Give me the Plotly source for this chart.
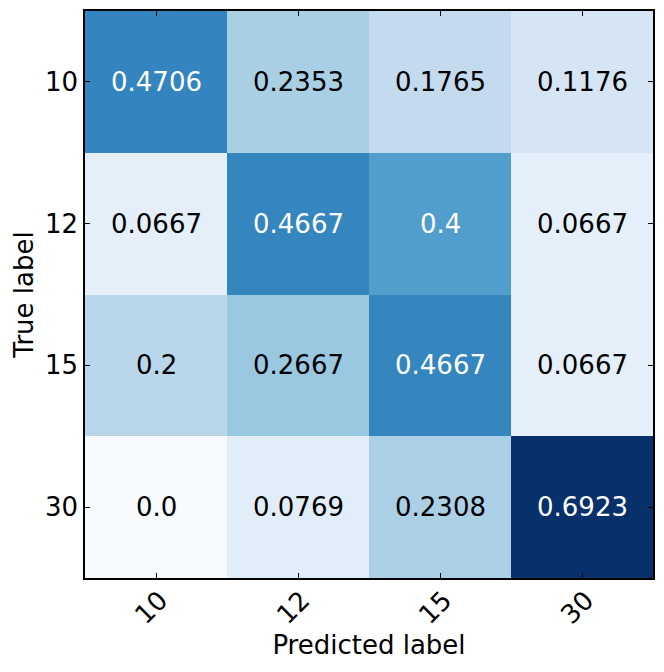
import plotly.graph_objects as go

classes = ["10", "12", "15", "30"]
values = [
    [0.4706, 0.2353, 0.1765, 0.1176],
    [0.0667, 0.4667, 0.4, 0.0667],
    [0.2, 0.2667, 0.4667, 0.0667],
    [0.0, 0.0769, 0.2308, 0.6923],
]
labels = [
    ["0.4706", "0.2353", "0.1765", "0.1176"],
    ["0.0667", "0.4667", "0.4", "0.0667"],
    ["0.2", "0.2667", "0.4667", "0.0667"],
    ["0.0", "0.0769", "0.2308", "0.6923"],
]

blues = ["#f7fbff", "#deebf7", "#c6dbef", "#9ecae1", "#6baed6",
         "#4292c6", "#2171b5", "#08519c", "#08306b"]
cscale = [[i / (len(blues) - 1), c] for i, c in enumerate(blues)]

vmin = min(min(r) for r in values)
vmax = max(max(r) for r in values)
thresh = vmax / 2.0
idx = list(range(len(classes)))

fig = go.Figure(go.Heatmap(
    z=values, x=idx, y=idx, colorscale=cscale,
    zmin=vmin, zmax=vmax, showscale=False, hoverinfo="skip",
))

font = "DejaVu Sans"
for i, row in enumerate(values):
    for j, v in enumerate(row):
        fig.add_annotation(
            x=idx[j], y=idx[i], text=labels[i][j], showarrow=False,
            font=dict(family=font, size=26, color="white" if v > thresh else "black"),
        )

axis_common = dict(
    showgrid=False, zeroline=False, automargin=False,
    showline=True, linecolor="black", linewidth=1.5, mirror="ticks",
    ticks="inside", ticklen=5, tickcolor="black", tickwidth=1,
    tickvals=idx, ticktext=classes,
    tickfont=dict(family=font, size=26, color="black"),
)

fig.update_layout(
    width=664, height=672,
    margin=dict(l=77, r=19, t=3, b=102),
    paper_bgcolor="white", plot_bgcolor="white",
    xaxis=dict(**axis_common, range=[-0.5, 3.5], tickangle=-45, ticklabelshift=4,
               ticklabelstandoff=-5,
               title=dict(text="Predicted label", font=dict(family=font, size=26, color="black"), standoff=0)),
    yaxis=dict(**axis_common, range=[3.5, -0.5],
               title=dict(text="True label", font=dict(family=font, size=26, color="black"), standoff=4)),
)

fig.write_html("out.html")
